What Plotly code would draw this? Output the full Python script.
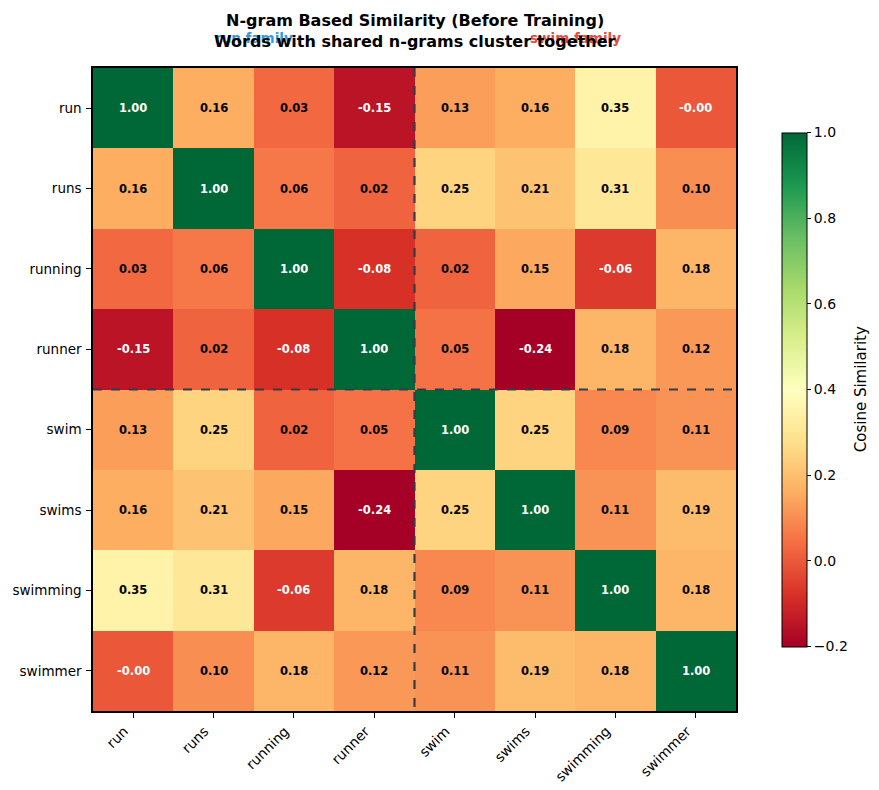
import plotly.graph_objects as go

words = ["run", "runs", "running", "runner", "swim", "swims", "swimming", "swimmer"]
sim = [
    [1.00, 0.16, 0.03, -0.15, 0.13, 0.16, 0.35, -0.001],
    [0.16, 1.00, 0.06, 0.02, 0.25, 0.21, 0.31, 0.10],
    [0.03, 0.06, 1.00, -0.08, 0.02, 0.15, -0.06, 0.18],
    [-0.15, 0.02, -0.08, 1.00, 0.05, -0.24, 0.18, 0.12],
    [0.13, 0.25, 0.02, 0.05, 1.00, 0.25, 0.09, 0.11],
    [0.16, 0.21, 0.15, -0.24, 0.25, 1.00, 0.11, 0.19],
    [0.35, 0.31, -0.06, 0.18, 0.09, 0.11, 1.00, 0.18],
    [-0.001, 0.10, 0.18, 0.12, 0.11, 0.19, 0.18, 1.00],
]
cbar_ticks = [-0.2, 0.0, 0.2, 0.4, 0.6, 0.8, 1.0]

rdylgn = [
    [0.0, "#a50026"], [0.1, "#d73027"], [0.2, "#f46d43"], [0.3, "#fdae61"],
    [0.4, "#fee08b"], [0.5, "#ffffbf"], [0.6, "#d9ef8b"], [0.7, "#a6d96a"],
    [0.8, "#66bd63"], [0.9, "#1a9850"], [1.0, "#006837"],
]

n = len(words)
idx = list(range(n))

fig = go.Figure()
fig.add_trace(go.Heatmap(
    z=sim, x=idx, y=idx, zmin=-0.2, zmax=1.0, colorscale=rdylgn,
    showscale=True, hoverinfo="skip",
    colorbar=dict(
        x=1.0714, xanchor="left", xref="paper", y=0.5, yanchor="middle",
        xpad=0, ypad=0,
        len=0.8, lenmode="fraction", thickness=25, thicknessmode="pixels",
        outlinewidth=1, outlinecolor="black",
        tickvals=cbar_ticks, ticktext=[f"{v:.1f}".replace("-", "\u2212") for v in cbar_ticks],
        ticks="outside", ticklen=4, tickcolor="black",
        tickfont=dict(family="DejaVu Sans", size=14, color="black"),
    ),
))

annotations = []
for i in range(n):
    for j in range(n):
        v = sim[i][j]
        col = "white" if (v < 0 or v > 0.7) else "black"
        annotations.append(dict(
            x=j, y=i, xref="x", yref="y", text=f"<b>{v:.2f}</b>", showarrow=False,
            font=dict(family="DejaVu Sans", size=11.5, color=col),
        ))

annotations.append(dict(x=1.194, y=0.5, xref="paper", yref="paper", xanchor="center", yanchor="middle",
                        text="Cosine Similarity", textangle=-90, showarrow=False,
                        font=dict(family="DejaVu Sans", size=15, color="black")))
annotations.append(dict(x=1.5, y=1.0466, xref="x", yref="paper", yanchor="middle", text="<b>run family</b>",
                        showarrow=False, font=dict(family="DejaVu Sans", size=13.5, color="#3498db")))
annotations.append(dict(x=5.5, y=1.0466, xref="x", yref="paper", yanchor="middle", text="<b>swim family</b>",
                        showarrow=False, font=dict(family="DejaVu Sans", size=13.5, color="#e74c3c")))
annotations.append(dict(x=3.5, y=1.0745, xref="x", yref="paper", yanchor="middle",
                        text="<b>N-gram Based Similarity (Before Training)</b>",
                        showarrow=False, font=dict(family="DejaVu Sans", size=16, color="black")))
annotations.append(dict(x=3.5, y=1.0419, xref="x", yref="paper", yanchor="middle",
                        text="<b>Words with shared n-grams cluster together</b>",
                        showarrow=False, font=dict(family="DejaVu Sans", size=16, color="black")))

shapes = [
    dict(type="line", xref="x", yref="y", x0=3.5, x1=3.5, y0=-0.5, y1=n - 0.5,
         line=dict(color="#2c3e50", width=2.2, dash="dash")),
    dict(type="line", xref="x", yref="y", x0=-0.5, x1=n - 0.5, y0=3.5, y1=3.5,
         line=dict(color="#2c3e50", width=2.2, dash="dash")),
]

fig.update_layout(
    width=879, height=790,
    margin=dict(l=85, r=151, t=60, b=87, autoexpand=False),
    paper_bgcolor="white", plot_bgcolor="white",
    annotations=annotations, shapes=shapes,
    font=dict(family="DejaVu Sans", color="black"),
)
fig.update_xaxes(
    range=[-0.5, n - 0.5], tickvals=idx, ticktext=words, tickangle=-45, automargin=False,
    ticklabelshift=-9,
    ticks="outside", ticklen=5, tickcolor="black", showgrid=False, zeroline=False,
    showline=True, linecolor="black", linewidth=1.5, mirror=True,
    tickfont=dict(family="DejaVu Sans", size=13.9, color="black"),
)
fig.update_yaxes(
    range=[n - 0.5, -0.5], tickvals=idx, ticktext=words, automargin=False,
    ticklabelstandoff=2,
    ticks="outside", ticklen=5, tickcolor="black", showgrid=False, zeroline=False,
    showline=True, linecolor="black", linewidth=1.5, mirror=True,
    tickfont=dict(family="DejaVu Sans", size=13.5, color="black"),
)

fig.write_html("out.html")
